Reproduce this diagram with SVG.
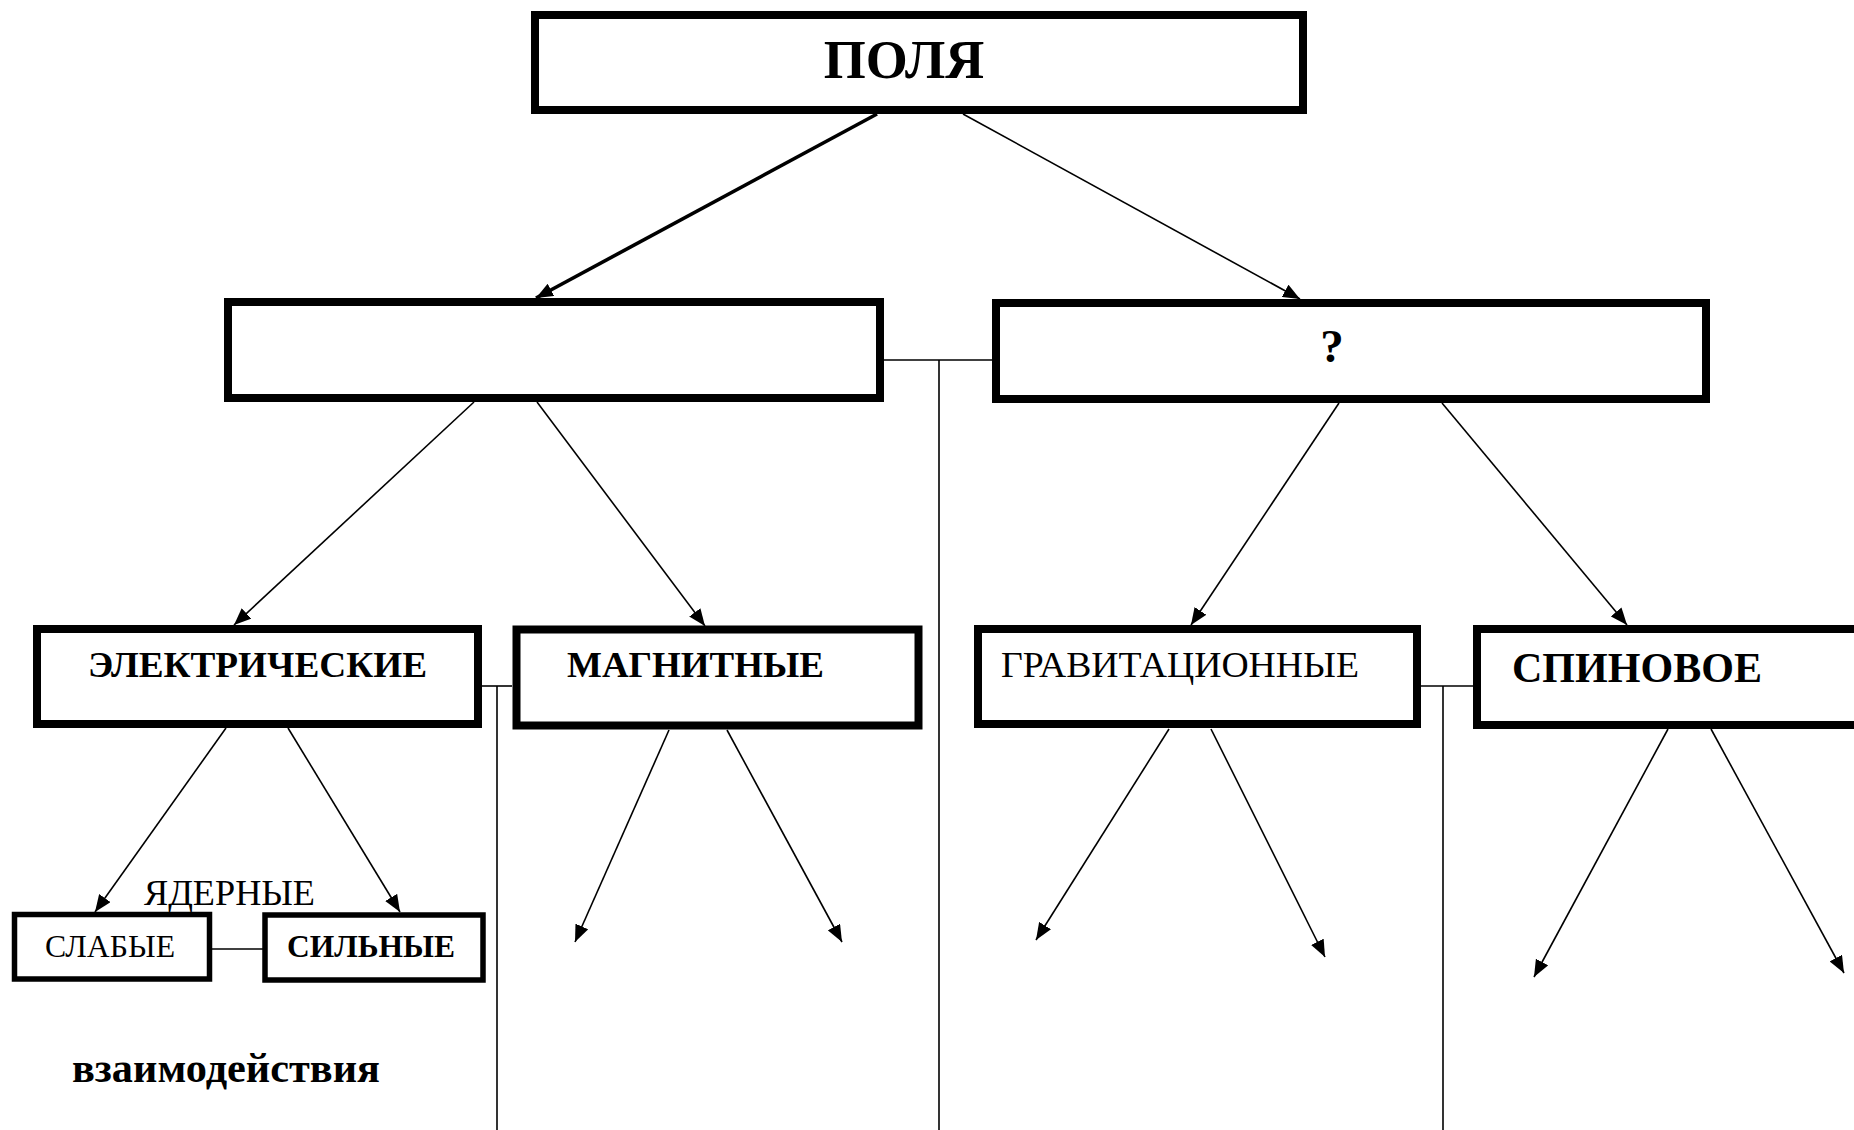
<svg xmlns="http://www.w3.org/2000/svg" width="1854" height="1130" viewBox="0 0 1854 1130">
<style>
.box{fill:#fff;stroke:#000;stroke-width:8}
.sm{stroke-width:5.5}
.t{font-family:"Liberation Serif","Times New Roman",serif;fill:#000}
.b{font-weight:bold}
.c{stroke:#000;stroke-width:1.6;fill:none}
.thick{stroke-width:3.6}
</style>
<defs>
<marker id="ah" markerUnits="userSpaceOnUse" markerWidth="18" markerHeight="14" refX="17" refY="7" orient="auto">
<path d="M0,0 L17,7 L0,14 z" fill="#000"/>
</marker>
</defs>
<rect width="1854" height="1130" fill="#fff"/>
<g id="connectors">
<line class="c thick" x1="877" y1="114" x2="536" y2="298" marker-end="url(#ah)"/>
<line class="c" x1="963" y1="114" x2="1300" y2="299" marker-end="url(#ah)"/>
<line class="c" x1="474" y1="402" x2="234" y2="625" marker-end="url(#ah)"/>
<line class="c" x1="537" y1="402" x2="705" y2="626" marker-end="url(#ah)"/>
<line class="c" x1="1339" y1="403" x2="1191" y2="625" marker-end="url(#ah)"/>
<line class="c" x1="1442" y1="403" x2="1627" y2="625" marker-end="url(#ah)"/>
<line class="c" x1="226" y1="728" x2="95" y2="912" marker-end="url(#ah)"/>
<line class="c" x1="288" y1="728" x2="400" y2="912" marker-end="url(#ah)"/>
<line class="c" x1="669" y1="730" x2="575" y2="942" marker-end="url(#ah)"/>
<line class="c" x1="727" y1="730" x2="842" y2="942" marker-end="url(#ah)"/>
<line class="c" x1="1169" y1="729" x2="1036" y2="940" marker-end="url(#ah)"/>
<line class="c" x1="1211" y1="729" x2="1325" y2="957" marker-end="url(#ah)"/>
<line class="c" x1="1668" y1="729" x2="1534" y2="977" marker-end="url(#ah)"/>
<line class="c" x1="1711" y1="729" x2="1844" y2="973" marker-end="url(#ah)"/>
<line class="c" x1="884" y1="360" x2="992" y2="360"/>
<line class="c" x1="939" y1="360" x2="939" y2="1130"/>
<line class="c" x1="482" y1="686" x2="512" y2="686"/>
<line class="c" x1="497" y1="686" x2="497" y2="1130"/>
<line class="c" x1="1421" y1="686" x2="1473" y2="686"/>
<line class="c" x1="1443" y1="686" x2="1443" y2="1130"/>
<line class="c" x1="212" y1="949" x2="263" y2="949"/>
</g>
<g id="polya">
<rect class="box" x="535" y="15" width="768" height="95"/>
<text class="t b" x="904" y="78" font-size="54" text-anchor="middle">ПОЛЯ</text>
</g>
<g id="left-empty">
<rect class="box" x="228" y="302" width="652" height="96"/>
</g>
<g id="question">
<rect class="box" x="996" y="303" width="710" height="96"/>
<text class="t b" x="1332" y="362" font-size="47" text-anchor="middle">?</text>
</g>
<g id="electric">
<rect class="box" x="37" y="629" width="441" height="95"/>
<text class="t b" x="88" y="677" font-size="36" textLength="339" lengthAdjust="spacingAndGlyphs">ЭЛЕКТРИЧЕСКИЕ</text>
</g>
<g id="magnetic">
<rect class="box" x="516.5" y="629.5" width="402" height="96"/>
<text class="t b" x="567" y="677" font-size="36" textLength="257" lengthAdjust="spacingAndGlyphs">МАГНИТНЫЕ</text>
</g>
<g id="gravity">
<rect class="box" x="978" y="629" width="439" height="95"/>
<text class="t" x="1001" y="677" font-size="36" textLength="358" lengthAdjust="spacingAndGlyphs">ГРАВИТАЦИОННЫЕ</text>
</g>
<g id="spin">
<rect class="box" x="1477" y="629" width="420" height="96"/>
<text class="t b" x="1512" y="682" font-size="43" textLength="250" lengthAdjust="spacingAndGlyphs">СПИНОВОЕ</text>
</g>
<g id="nuclear-label">
<text class="t" x="144" y="905" font-size="35" textLength="171" lengthAdjust="spacingAndGlyphs">ЯДЕРНЫЕ</text>
</g>
<g id="weak">
<rect class="box sm" x="14.5" y="914.5" width="195" height="64.5"/>
<text class="t" x="45" y="957" font-size="32" textLength="130" lengthAdjust="spacingAndGlyphs">СЛАБЫЕ</text>
</g>
<g id="strong">
<rect class="box sm" x="265" y="915" width="218" height="65"/>
<text class="t b" x="287" y="957" font-size="32" textLength="168" lengthAdjust="spacingAndGlyphs">СИЛЬНЫЕ</text>
</g>
<g id="interactions">
<text class="t b" x="72" y="1082" font-size="43" textLength="308" lengthAdjust="spacingAndGlyphs">взаимодействия</text>
</g>
</svg>
